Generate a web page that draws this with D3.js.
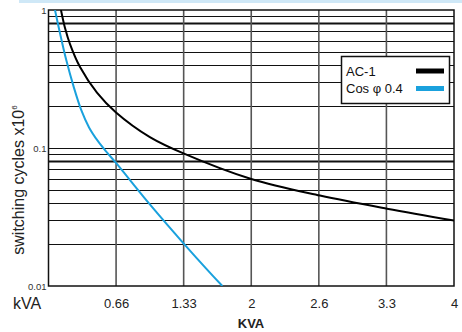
<!DOCTYPE html>
<html><head><meta charset="utf-8">
<script src="https://cdn.jsdelivr.net/npm/d3@7"></script>
<style>body{margin:0;background:#fff}svg{display:block;font-family:"Liberation Sans",Arial,sans-serif}</style>
</head><body><svg id="c" width="462" height="332"></svg>
<script>
// X ticks (kVA) – evenly spaced in the chart
const xTickValues = [0.6667, 1.3333, 2, 2.6667, 3.3333, 4];
const xTickLabels = ["0.66", "1.33", "2", "2.6", "3.3", "4"];
// Y ticks (switching cycles x10^6)
const yTickValues = [1, 0.1, 0.01];
const yTickLabels = ["1", "0.1", "0.01"];
const yGridValues = [0.02,0.03,0.04,0.05,0.06,0.07,0.08,0.09,0.1,0.2,0.3,0.4,0.5,0.6,0.7,0.8,0.9];
const yThickGrid = [0.08, 0.8];
// Series
const ac1KVA    = [0.123, 0.163, 0.212, 0.311, 0.478, 0.666, 1.0, 1.337, 2.0, 2.678, 3.339, 4.0];
const ac1Cycles = [1.0, 0.74, 0.566, 0.386, 0.252, 0.181, 0.120, 0.091, 0.0596, 0.0452, 0.0363, 0.0298];
const cosKVA    = [0.064, 0.113, 0.174, 0.25, 0.3235, 0.40, 0.488, 0.574, 0.666, 1.0, 1.347, 1.715];
const cosCycles = [1.0, 0.681, 0.437, 0.275, 0.188, 0.141, 0.112, 0.0933, 0.078, 0.039, 0.0198, 0.01];
const seriesNames = ["AC-1", "Cos \u03c6 0.4"];
const seriesColors = ["#000000", "#1aa1dd"];

const svg = d3.select("#c");
const L = 48.5, R = 454, T = 10, B = 286;
const x = d3.scaleLinear().domain([0, 4]).range([L, R]);
const y = d3.scaleLog().domain([0.01, 1]).range([B, T]);

// top light-blue strip
svg.append("rect").attr("x", 19).attr("y", 0).attr("width", 443).attr("height", 3).attr("fill", "#cfe8f7");

svg.append("defs").append("clipPath").attr("id", "clip")
  .append("rect").attr("x", L).attr("y", T).attr("width", R - L).attr("height", B - T);

// horizontal grid
svg.append("g").selectAll("line").data(yGridValues).join("line")
  .attr("x1", L).attr("x2", R)
  .attr("y1", d => Math.round(y(d)) + 0.5).attr("y2", d => Math.round(y(d)) + 0.5)
  .attr("stroke", "#111").attr("stroke-width", d => yThickGrid.includes(d) ? 2 : 1);

// vertical grid
svg.append("g").selectAll("line").data(xTickValues.slice(0, -1)).join("line")
  .attr("x1", d => x(d)).attr("x2", d => x(d)).attr("y1", T).attr("y2", B)
  .attr("stroke", "#555").attr("stroke-width", 1.6);

// frame
svg.append("rect").attr("x", L).attr("y", T).attr("width", R - L).attr("height", B - T)
  .attr("fill", "none").attr("stroke", "#111").attr("stroke-width", 1.5);

// curves
const line = d3.line().x(d => x(d[0])).y(d => y(d[1])).curve(d3.curveCatmullRom.alpha(0.5));
const series = [d3.zip(ac1KVA, ac1Cycles), d3.zip(cosKVA, cosCycles)];
svg.append("g").attr("clip-path", "url(#clip)").selectAll("path").data(series).join("path")
  .attr("d", line).attr("fill", "none")
  .attr("stroke", (d, i) => seriesColors[i]).attr("stroke-width", 2);

// x axis labels
const xAxis = d3.axisBottom(x).tickValues(xTickValues).tickFormat((d, i) => xTickLabels[i]).tickSize(0).tickPadding(0);
const gx = svg.append("g").attr("transform", `translate(0,${B})`).call(xAxis);
gx.select(".domain").remove();
gx.selectAll("text").attr("dy", null).attr("y", 22).attr("font-size", 13).attr("fill", "#222")
  .attr("font-family", "Liberation Sans, Arial, sans-serif");

// y axis labels
const yAxis = d3.axisLeft(y).tickValues(yTickValues).tickFormat((d, i) => yTickLabels[i]).tickSize(0).tickPadding(0);
const gy = svg.append("g").attr("transform", `translate(${L - 2},0)`).call(yAxis);
gy.select(".domain").remove();
gy.selectAll("text").attr("x", 0).attr("dy", "0.35em").attr("font-size", 9.5).attr("fill", "#333")
  .attr("font-family", "Liberation Sans, Arial, sans-serif");

// kVA left label
svg.append("text").attr("x", 13).attr("y", 309).attr("font-size", 16).attr("fill", "#222").text("kVA");
// KVA bold title
svg.append("text").attr("x", 251).attr("y", 328).attr("text-anchor", "middle").attr("font-size", 13)
  .attr("font-weight", "bold").attr("fill", "#222").text("KVA");
// y title
const yt = svg.append("text").attr("transform", "translate(24,180) rotate(-90)")
  .attr("text-anchor", "middle").attr("font-size", 16).attr("fill", "#222");
yt.append("tspan").text("switching cycles x10");
yt.append("tspan").attr("font-size", 8).attr("dy", -7).text("6");

// legend
const lg = svg.append("g");
lg.append("rect").attr("x", 341.5).attr("y", 56.5).attr("width", 108).attr("height", 47)
  .attr("fill", "#fff").attr("stroke", "#111").attr("stroke-width", 1.5);
seriesNames.forEach((n, i) => {
  lg.append("text").attr("x", 346).attr("y", 76 + i * 17).attr("font-size", 13).attr("fill", "#111").text(n);
  lg.append("line").attr("x1", 416).attr("x2", 444).attr("y1", 71 + i * 17.5).attr("y2", 71 + i * 17.5)
    .attr("stroke", seriesColors[i]).attr("stroke-width", 5);
});
</script></body></html>
